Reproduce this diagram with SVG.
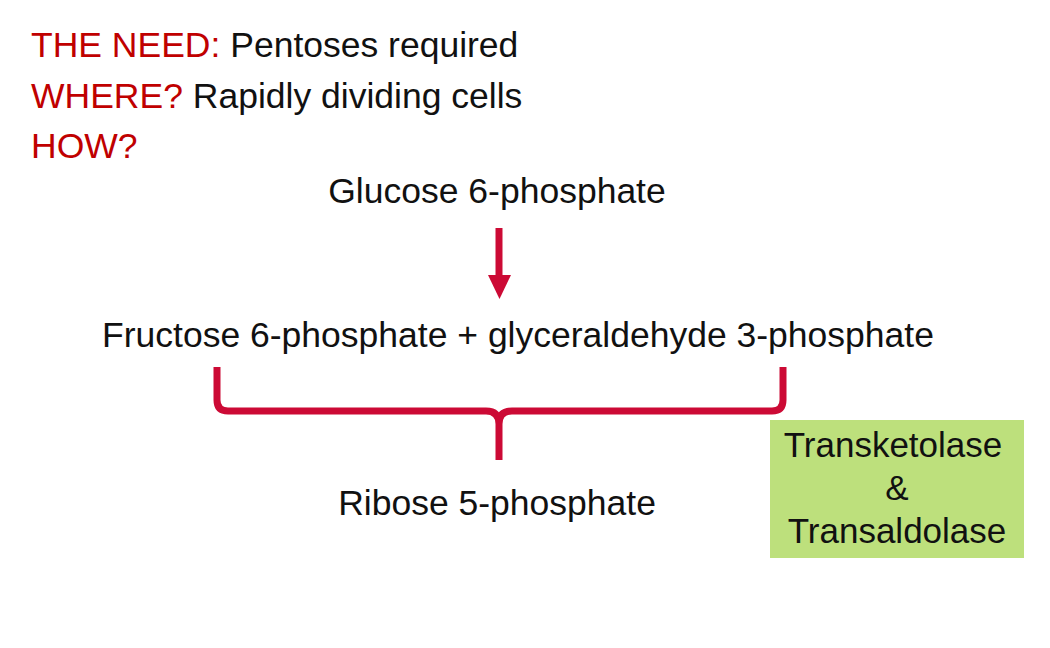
<svg xmlns="http://www.w3.org/2000/svg" width="1050" height="648" viewBox="0 0 1050 648">
<style>
text{font-family:"Liberation Sans",Arial,sans-serif;font-size:35.5px;fill:#111}
.red{fill:#C00000}
.box text{font-size:35px}
.conn{stroke:#CC0A35;fill:none;stroke-width:7}
</style>
<rect width="1050" height="648" fill="#fff"/>
<g id="header">
<text x="31" y="57"><tspan class="red">THE NEED:</tspan> Pentoses required</text>
<text x="31" y="108"><tspan class="red">WHERE?</tspan> Rapidly dividing cells</text>
<text x="31" y="158" class="red">HOW?</text>
</g>
<g id="glucose"><text x="497" y="203" text-anchor="middle">Glucose 6-phosphate</text></g>
<g id="fructose"><text x="518" y="347" text-anchor="middle">Fructose 6-phosphate + glyceraldehyde 3-phosphate</text></g>
<g id="ribose"><text x="497" y="515" text-anchor="middle">Ribose 5-phosphate</text></g>
<g id="enzymes" class="box">
<rect x="770" y="420" width="254" height="138" fill="#BDE07C"/>
<text x="893" y="457" text-anchor="middle">Transketolase</text>
<text x="897" y="500" text-anchor="middle">&amp;</text>
<text x="897" y="543" text-anchor="middle">Transaldolase</text>
</g>
<g id="connectors">
<line class="conn" x1="499" y1="228" x2="499" y2="278"/>
<polygon points="488,275 511,275 499.5,299" fill="#CC0A35"/>
<path class="conn" d="M217,367 V400 Q217,411 228,411 H486 Q499,411 499,424 V460 M499,424 Q499,411 512,411 H772 Q783,411 783,400 V367"/>
</g>
</svg>
